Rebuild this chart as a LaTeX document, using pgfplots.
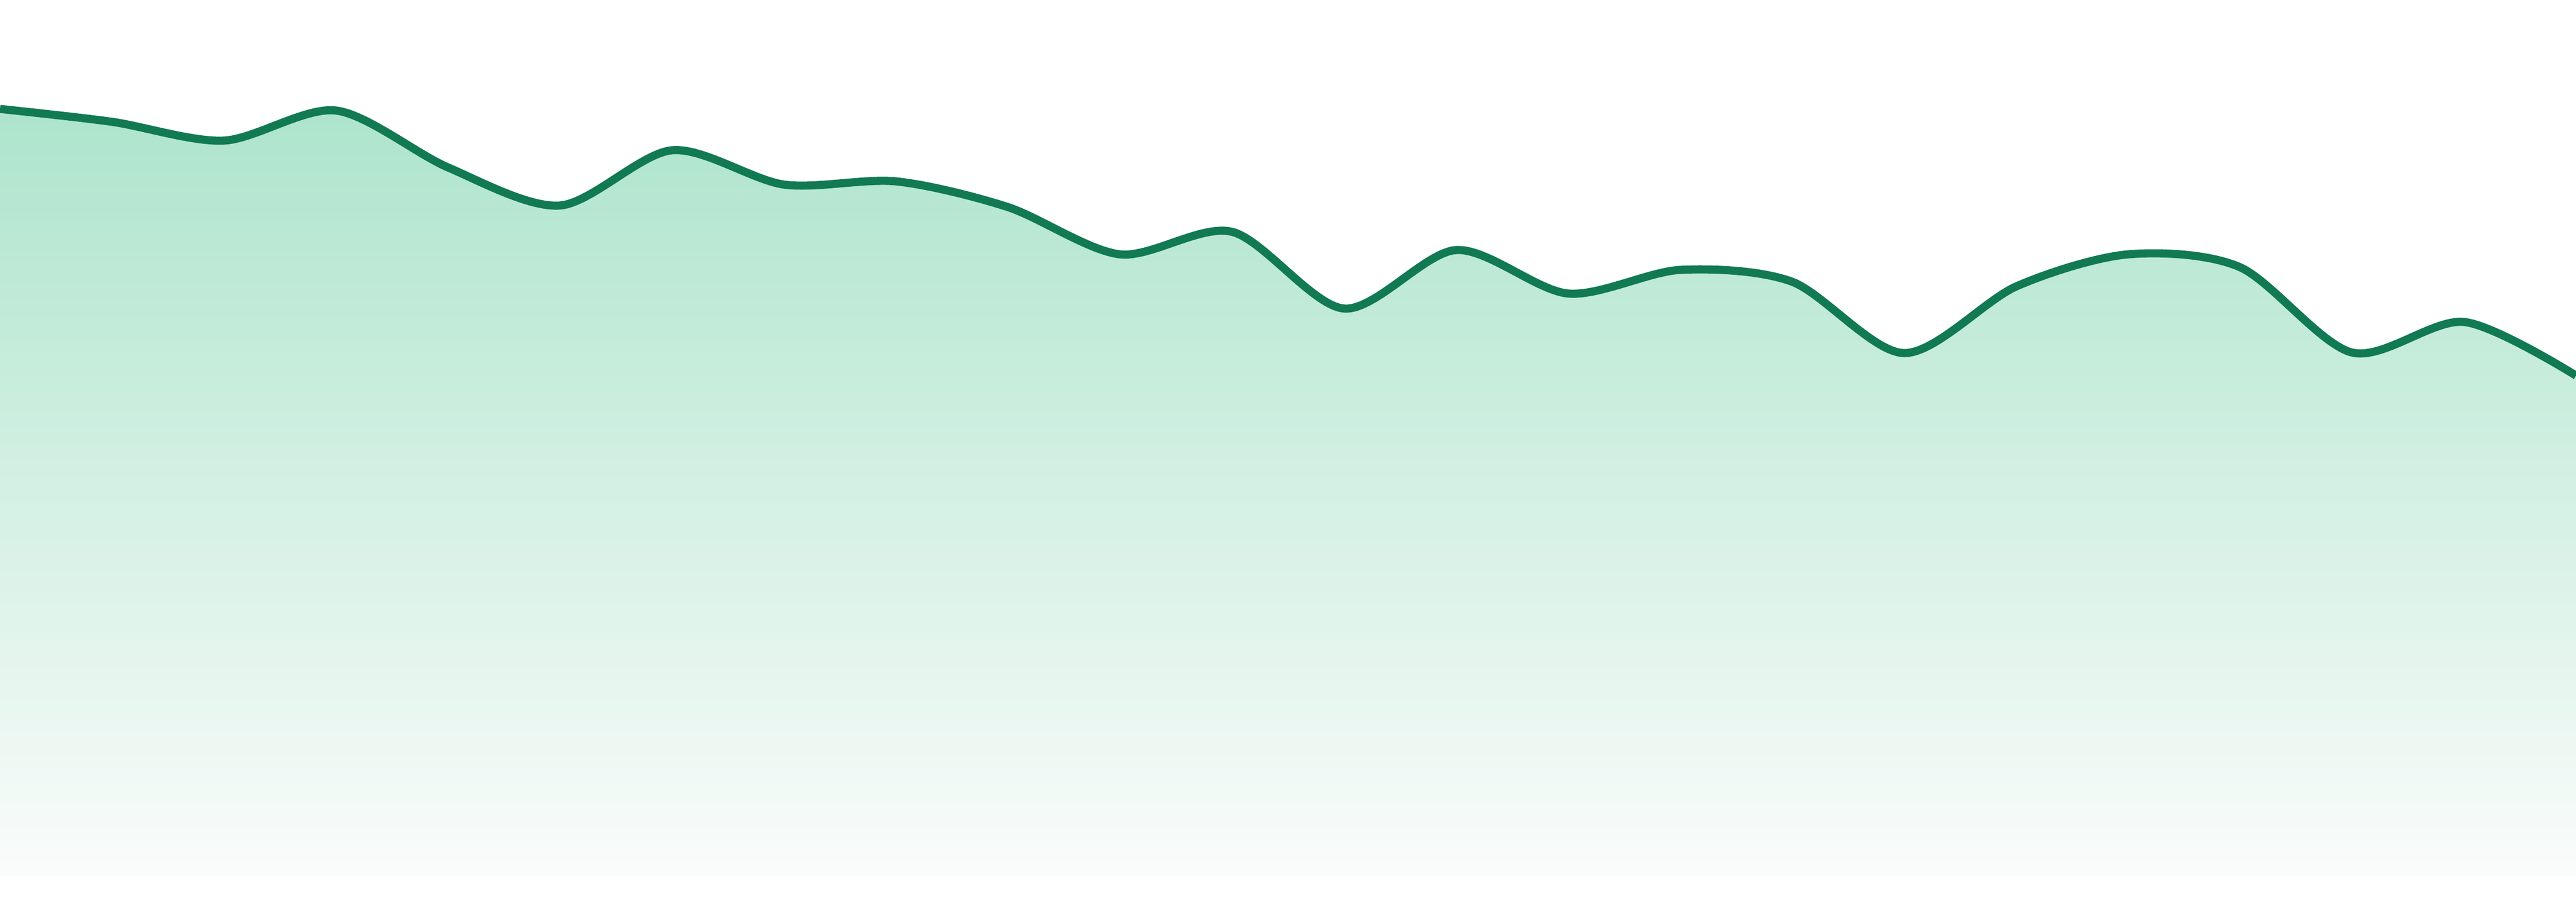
\documentclass[border=0pt]{standalone}
\usepackage{pgfplots}
\pgfplotsset{compat=1.18}
\definecolor{linegreen}{RGB}{17,122,82}
\definecolor{filltop}{RGB}{173,228,204}
\definecolor{fillbot}{RGB}{250,252,251}

% one value per step; x positions 0..23 span the full width
\pgfplotstableread{
x y
0 142.9
1 140.5
2 137.0
3 142.6
4 132.0
5 124.9
6 135.2
7 128.8
8 129.4
9 124.6
10 115.8
11 120.0
12 105.7
13 116.6
14 108.5
15 112.9
16 110.7
17 97.4
18 109.8
19 115.8
20 113.4
21 97.5
22 103.2
23 93.2
}\series

\begin{document}
\begin{tikzpicture}
\useasboundingbox (0,-0.24cm) rectangle (24cm,8.16cm);
\begin{axis}[
    at={(0,0)}, anchor=south west,
    scale only axis,
    width=24cm, height=8.16cm,
    xmin=0, xmax=23,
    ymin=0, ymax=163.2,
    hide axis,
    clip=true,
]
\addplot[draw=none, top color=filltop, bottom color=fillbot, smooth, tension=0.5]
    table[x=x, y=y] {\series} \closedcycle;
\addplot[linegreen, line width=2.15pt, smooth, tension=0.5, mark=none]
    table[x=x, y=y] {\series};
\end{axis}
\end{tikzpicture}
\end{document}
